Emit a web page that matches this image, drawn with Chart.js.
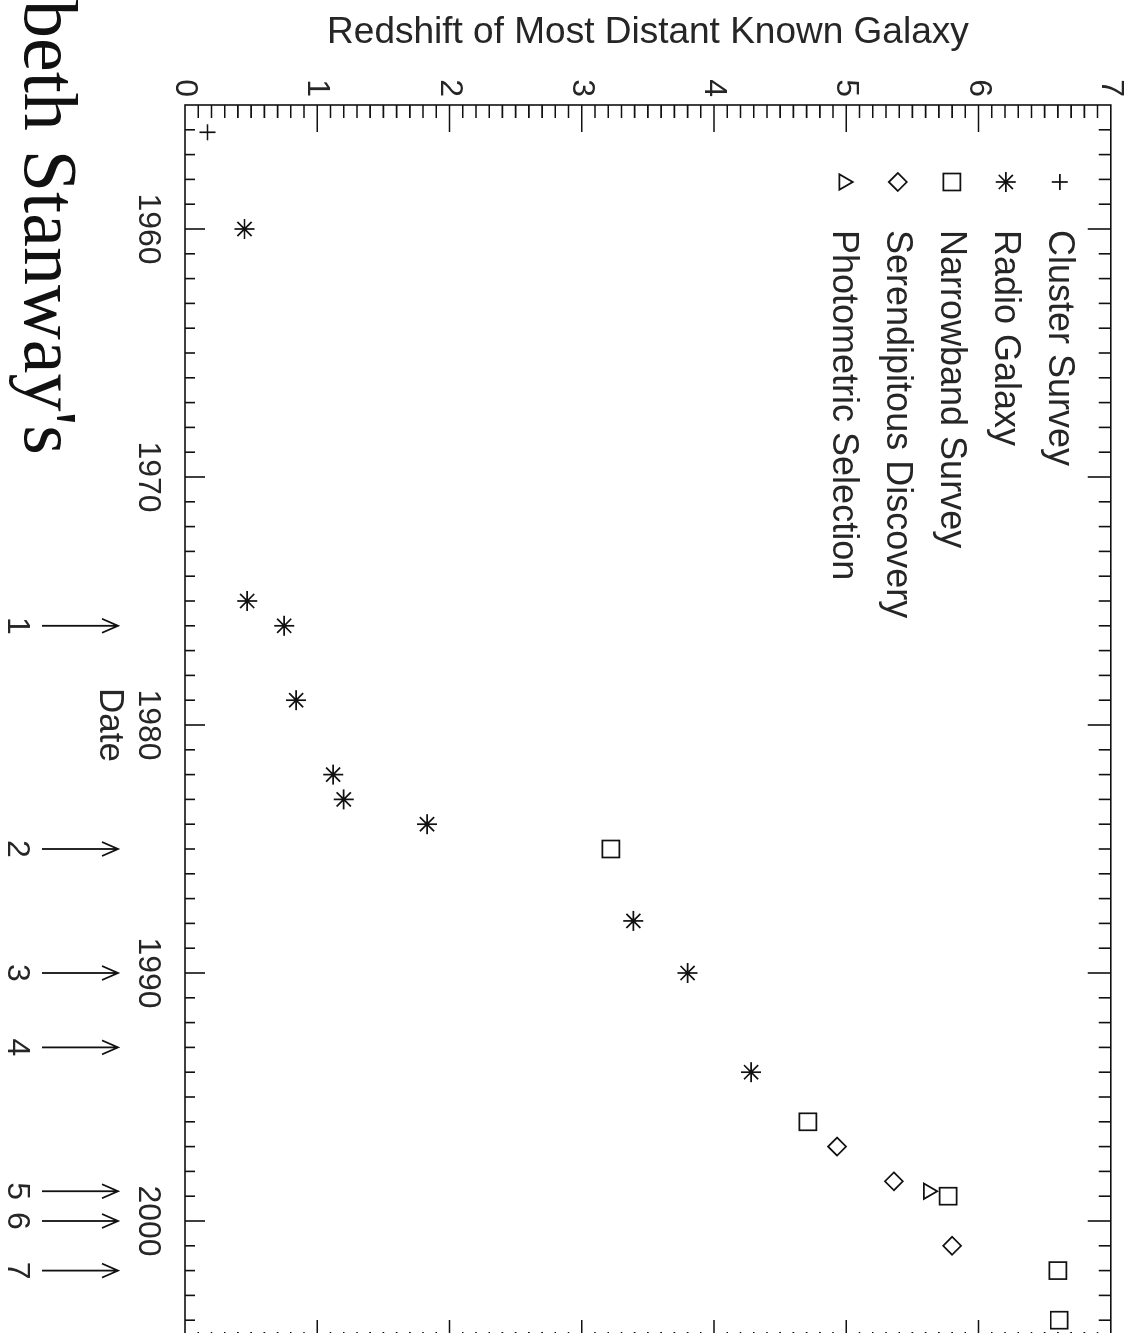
<!DOCTYPE html>
<html>
<head>
<meta charset="utf-8">
<title>Redshift of Most Distant Known Galaxy</title>
<script src="https://cdn.jsdelivr.net/npm/chart.js@4.4.1/dist/chart.umd.min.js"></script>
<style>
html, body { margin: 0; padding: 0; overflow: hidden; background: #fff; width: 1138px; height: 1333px; }
/* the scanned page is lying on its side, so the whole sheet is turned 90deg clockwise */
#page { position: absolute; left: 0; top: 0; width: 1360px; height: 1138px;
        transform-origin: 0 0; transform: translateX(1138px) rotate(90deg); background: #fff; }
#plot { position: absolute; left: 0; top: 0; }
#sig { position: absolute; left: 0; top: 1049px; font: 76px/76px "Liberation Serif", "Times New Roman", serif;
       color: #111; white-space: nowrap; }
</style>
</head>
<body>
<div id="page">
  <canvas id="plot" width="1360" height="1138"></canvas>
  <div id="sig">beth Stanway's</div>
</div>
<script>
// axis ticks
var dateTicks = [1960, 1970, 1980, 1990, 2000];
var redshiftTicks = [0, 1, 2, 3, 4, 5, 6, 7];

// series (date of discovery, redshift)
var clusterDates = [1956.1];
var clusterZ = [0.17];
var radioDates = [1960, 1975, 1976, 1979, 1982, 1983, 1984, 1987.9, 1990, 1994];
var radioZ = [0.45, 0.47, 0.75, 0.84, 1.12, 1.20, 1.83, 3.39, 3.80, 4.28];
var narrowDates = [1985, 1996, 1999, 2002, 2004];
var narrowZ = [3.22, 4.71, 5.77, 6.60, 6.61];
var serendipDates = [1997, 1998.4, 2001];
var serendipZ = [4.93, 5.36, 5.80];
var photoDates = [1998.8];
var photoZ = [5.62];

// numbered arrows under the date axis
var arrowDates = [1976, 1985, 1990, 1993, 1998.8, 2000, 2002];
var arrowLabels = ['1', '2', '3', '4', '5', '6', '7'];

var ink = '#111';
var textColor = '#262626';
var sans = '"Liberation Sans", Arial, Helvetica, sans-serif';

function pts(xs, ys) {
    return xs.map(function (x, i) {
        return { x: x, y: ys[i] };
    });
}

function series(label, xs, ys, style, r) {
    return {
        label: label,
        data: pts(xs, ys),
        pointStyle: style,
        pointRadius: r,
        pointBorderWidth: 1.7,
        borderColor: ink,
        backgroundColor: 'rgba(0,0,0,0)',
        showLine: false
    };
}

// box round the plot with inward ticks on all four sides
var frameTicks = {
    id: 'frameTicks',
    afterDraw: function (chart) {
        var ctx = chart.ctx, a = chart.chartArea;
        var xs = chart.scales.x, ys = chart.scales.y;
        ctx.save();
        ctx.strokeStyle = ink;
        ctx.lineWidth = 1.6;
        ctx.strokeRect(a.left, a.top, a.right - a.left, a.bottom - a.top);
        ctx.beginPath();
        for (var yr = xs.min + 1; yr < xs.max; yr++) {
            var px = xs.getPixelForValue(yr);
            var major = yr % 10 === 0;
            ctx.moveTo(px, a.bottom);
            ctx.lineTo(px, a.bottom - (major ? 20 : 10));
            ctx.moveTo(px, a.top);
            ctx.lineTo(px, a.top + (major ? 23 : 12));
        }
        for (var k = 1; k < ys.max * 10; k++) {
            var py = ys.getPixelForValue(k / 10);
            var maj = k % 10 === 0;
            ctx.moveTo(a.left, py);
            ctx.lineTo(a.left + (maj ? 27 : 13), py);
            ctx.moveTo(a.right, py);
            ctx.lineTo(a.right - (maj ? 25 : 13), py);
        }
        ctx.stroke();
        ctx.restore();
    }
};

// legend in the upper left corner of the plot
var boxLegend = {
    id: 'boxLegend',
    afterDraw: function (chart) {
        var ctx = chart.ctx, a = chart.chartArea;
        ctx.save();
        ctx.font = '36px ' + sans;
        ctx.textAlign = 'left';
        ctx.textBaseline = 'middle';
        chart.data.datasets.forEach(function (ds, i) {
            var y = a.top + 51 + i * 54;
            var x = a.left + 77;
            ctx.strokeStyle = ink;
            ctx.fillStyle = 'rgba(0,0,0,0)';
            ctx.lineWidth = 1.7;
            Chart.helpers.drawPoint(ctx, {
                pointStyle: ds.pointStyle,
                radius: ds.pointRadius,
                rotation: 0,
                borderWidth: 1.7
            }, x, y);
            ctx.fillStyle = textColor;
            ctx.fillText(ds.label, a.left + 125, y + 1);
        });
        ctx.restore();
    }
};

// arrows pointing at the date axis, with their numbers
var dateArrows = {
    id: 'dateArrows',
    afterDraw: function (chart) {
        var ctx = chart.ctx, xs = chart.scales.x, h = chart.height;
        ctx.save();
        ctx.strokeStyle = ink;
        ctx.fillStyle = textColor;
        ctx.lineWidth = 1.8;
        ctx.font = '32px ' + sans;
        ctx.textAlign = 'center';
        ctx.textBaseline = 'middle';
        arrowDates.forEach(function (d, i) {
            var px = xs.getPixelForValue(d);
            var tip = h - 118, tail = h - 42;
            ctx.beginPath();
            ctx.moveTo(px, tail);
            ctx.lineTo(px, tip);
            ctx.moveTo(px - 7, tip + 16);
            ctx.lineTo(px, tip);
            ctx.lineTo(px + 7, tip + 16);
            ctx.stroke();
            ctx.fillText(arrowLabels[i], px, h - 17);
        });
        ctx.restore();
    }
};

Chart.defaults.font.family = sans;
Chart.defaults.color = textColor;

var myScatter = new Chart('plot', {
    type: 'scatter',
    data: {
        datasets: [
            series('Cluster Survey', clusterDates, clusterZ, 'cross', 8),
            series('Radio Galaxy', radioDates, radioZ, 'star', 10),
            series('Narrowband Survey', narrowDates, narrowZ, 'rect', 12),
            series('Serendipitous Discovery', serendipDates, serendipZ, 'rectRot', 9),
            series('Photometric Selection', photoDates, photoZ, 'triangle', 9)
        ]
    },
    options: {
        responsive: false,
        animation: false,
        events: [],
        layout: { padding: { top: 25, right: 15, left: 0, bottom: 0 } },
        plugins: {
            legend: { display: false },
            tooltip: { enabled: false }
        },
        scales: {
            x: {
                type: 'linear',
                min: 1955,
                max: 2005,
                afterBuildTicks: function (s) {
                    s.ticks = dateTicks.map(function (v) { return { value: v }; });
                },
                afterFit: function (s) { s.height = 185; },
                grid: { display: false, drawTicks: false },
                border: { display: false },
                ticks: {
                    padding: 18, font: { size: 32 }, maxRotation: 0, autoSkip: false,
                    callback: function (v) { return String(v); }
                },
                title: { display: true, text: 'Date', font: { size: 35 }, padding: { top: 0, bottom: 89 } }
            },
            y: {
                type: 'linear',
                min: 0,
                max: 7,
                afterBuildTicks: function (s) {
                    s.ticks = redshiftTicks.map(function (v) { return { value: v }; });
                },
                afterFit: function (s) { s.width = 105; },
                grid: { display: false, drawTicks: false },
                border: { display: false },
                ticks: { padding: 8, font: { size: 32 }, autoSkip: false },
                title: { display: true, text: 'Redshift of Most Distant Known Galaxy', font: { size: 37 }, padding: { top: 11, bottom: 0 } }
            }
        }
    },
    plugins: [frameTicks, boxLegend, dateArrows]
});
</script>
</body>
</html>
